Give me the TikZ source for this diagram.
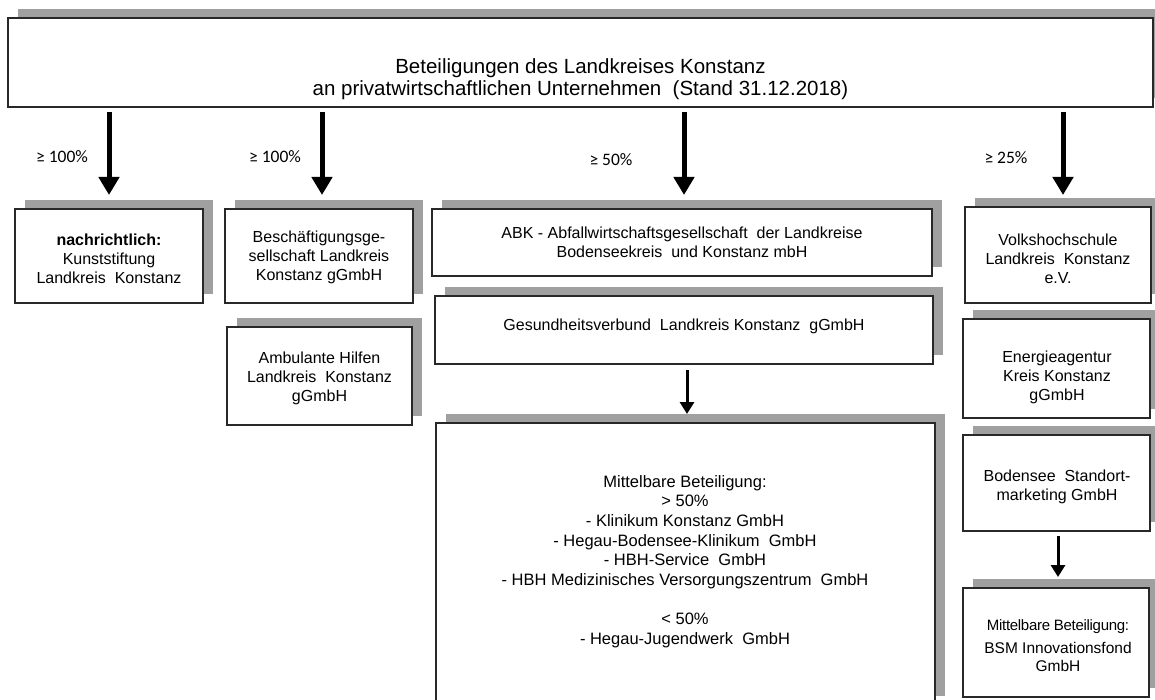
\documentclass[tikz,border=0pt]{standalone}
\usepackage{fontspec}
\setmainfont{Liberation Sans}
\newfontfamily\labelfont{Carlito}
\usetikzlibrary{arrows.meta,shadows,calc}
\definecolor{shgray}{RGB}{160,160,160}
\definecolor{edge}{RGB}{40,40,40}
\tikzset{
  box/.style={draw=edge, line width=2pt, fill=white, inner sep=0pt,
    drop shadow={shadow xshift=10pt, shadow yshift=9pt, fill=shgray, opacity=1}},
  txt/.style={align=center, inner sep=0pt, font=\fontsize{16}{18.8}\selectfont},
  pct/.style={inner sep=0pt, font=\labelfont\fontsize{17.5}{20}\selectfont},
  bigarrow/.style={line width=5pt, -{Triangle[width=20pt,length=18pt]}, shorten <=4pt, shorten >=13pt},
  smallarrow/.style={line width=3pt, -{Triangle[width=14pt,length=12pt]}}
}
\begin{document}
\begin{tikzpicture}[x=1pt,y=-1pt]
\useasboundingbox (0,0) rectangle (1155,700);
% boxes
\node[box, minimum width=1145pt, minimum height=89pt] (title) at (580.5,62.5) {};
\node[txt, font=\fontsize{20.5}{22.5}\selectfont] (titlet) at (580.5,79) {Beteiligungen des Landkreises Konstanz\\an privatwirtschaftlichen Unternehmen \ (Stand 31.12.2018)};

\node[box, minimum width=188pt, minimum height=94pt] (kunst) at (109,256) {};
\node[txt] (kunstt) at (109,259) {\textbf{nachrichtlich:}\\Kunststiftung\\Landkreis \ Konstanz};

\node[box, minimum width=188pt, minimum height=94pt] (besch) at (319,256) {};
\node[txt] (bescht) at (319,257.5) {Beschäftigungsge-\\sellschaft Landkreis\\Konstanz gGmbH};

\node[box, minimum width=185pt, minimum height=98pt] (ambul) at (319.5,376) {};
\node[txt] (ambult) at (319.5,378.5) {Ambulante Hilfen\\Landkreis \ Konstanz\\gGmbH};

\node[box, minimum width=500pt, minimum height=67pt] (abk) at (682,242.5) {};
\node[txt] (abkt) at (682,242.5) {ABK - Abfallwirtschaftsgesellschaft \ der Landkreise\\Bodenseekreis \ und Konstanz mbH};

\node[box, minimum width=498pt, minimum height=68pt] (gesund) at (684,330) {};
\node[txt] (gesundt) at (684,326) {Gesundheitsverbund \ Landkreis Konstanz \ gGmbH};

\node[box, minimum width=499pt, minimum height=282pt] (mittel) at (685.5,564) {};
\node[txt, font=\fontsize{16.5}{19.6}\selectfont] (mittelt) at (685,561.5) {Mittelbare Beteiligung:\\> 50\%\\- Klinikum Konstanz GmbH\\- Hegau-Bodensee-Klinikum \ GmbH\\- HBH-Service \ GmbH\\- HBH Medizinisches Versorgungszentrum \ GmbH\\[19.6pt] < 50\%\\- Hegau-Jugendwerk \ GmbH};

\node[box, minimum width=186pt, minimum height=96pt] (volks) at (1058,255) {};
\node[txt] (volkst) at (1058,258.5) {Volkshochschule\\Landkreis \ Konstanz\\e.V.};

\node[box, minimum width=187pt, minimum height=99pt] (energie) at (1056.5,368.5) {};
\node[txt] (energiet) at (1057,377.5) {Energieagentur\\Kreis Konstanz\\gGmbH};

\node[box, minimum width=187pt, minimum height=96pt] (boden) at (1056.5,483) {};
\node[txt] (bodent) at (1057,487) {Bodensee \ Standort-\\marketing GmbH};

\node[box, minimum width=186pt, minimum height=109pt] (bsm) at (1056,642.5) {};
\node[txt, font=\fontsize{15.5}{17.5}\selectfont] (bsmt) at (1058,645.5) {{\fontsize{15}{17}\selectfont\addfontfeature{LetterSpace=-2}Mittelbare Beteiligung:}\\[5.5pt]BSM Innovationsfond\\GmbH};

% percentage labels
\node[pct] (p1) at (62,157) {≥ 100\%};
\node[pct] (p2) at (275,157) {≥ 100\%};
\node[pct] (p3) at (611,160) {≥ 50\%};
\node[pct] (p4) at (1006,158) {≥ 25\%};

% arrows
\draw[bigarrow] (title.south -| kunst.north) -- (kunst.north);
\draw[bigarrow] ([xshift=3pt]title.south -| besch.north) -- ([xshift=3pt]besch.north);
\draw[bigarrow] ([xshift=2pt]title.south -| abk.north) -- ([xshift=2pt]abk.north);
\draw[bigarrow, shorten >=11pt] ([xshift=5pt]title.south -| volks.north) -- ([xshift=5pt]volks.north);
\draw[smallarrow, shorten <=5pt, shorten >=8pt] ([xshift=3pt]gesund.south) -- ([xshift=3pt]gesund.south |- mittel.north);
\draw[smallarrow, shorten <=4pt, shorten >=10pt] ([xshift=1.5pt]boden.south) -- ([xshift=1.5pt]boden.south |- bsm.north);
\end{tikzpicture}
\end{document}
